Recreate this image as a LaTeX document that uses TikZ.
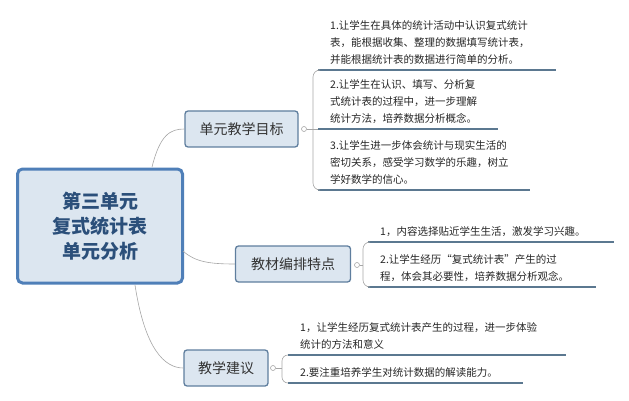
\documentclass[tikz,border=0pt]{standalone}
\usepackage{fontspec}
\setmainfont{Noto Sans CJK SC}
\begin{document}
\begin{tikzpicture}[x=1pt,y=-1pt,
  box/.style={draw=boxb,fill=boxf,rounded corners=3pt,line width=1.3pt,inner sep=0pt,text=black!80},
  leaf/.style={anchor=south west,align=left,font=\fontsize{10.5}{17}\selectfont,text=black!85,inner sep=0pt},
  uline/.style={draw=ulc,line width=2.4pt},
  conn/.style={draw=gray!70,line width=0.6pt},
  knob/.style={circle,draw=gray!70,fill=white,minimum size=5pt,inner sep=0pt,line width=0.6pt}]
\definecolor{boxb}{HTML}{5F7E9E}
\definecolor{boxf}{HTML}{DCE6F0}
\definecolor{cb}{HTML}{4F7FB8}
\definecolor{ctext}{HTML}{2B4F7A}
\definecolor{ulc}{HTML}{5B7890}
\useasboundingbox (0,0) rectangle (629,401);
% center
\node[draw=cb,fill=boxf,rounded corners=5pt,line width=3pt,minimum width=165pt,minimum height=114pt,align=center,font=\fontsize{19}{25}\selectfont\bfseries,text=ctext] (c) at (100,226) {第三单元\\复式统计表\\单元分析};
% branches
\node[box,minimum width=113pt,minimum height=36pt,font=\fontsize{14}{16}\selectfont] (g) at (241.5,129) {单元教学目标};
\node[box,minimum width=115pt,minimum height=36pt,font=\fontsize{14}{16}\selectfont] (f) at (293,264) {教材编排特点};
\node[box,minimum width=84pt,minimum height=36pt,font=\fontsize{14}{16}\selectfont] (s) at (226,368) {教学建议};
\coordinate (ct) at (152,167);
\coordinate (cr) at (183,251);
\coordinate (cbm) at (135,285);
\draw[conn] (ct) .. controls (160,135) and (170,129) .. (g.west);
\draw[conn] (cr) .. controls (195,262) and (210,264) .. (f.west);
\draw[conn] (cbm) .. controls (145,350) and (165,368) .. (s.west);
% knobs
\node[knob] (gk) at (304,129) {};
\node[knob] (fk) at (357,265) {};
\node[knob] (sk) at (273,368) {};
% goal leaves
\coordinate (g1) at (318,70); \coordinate (g1e) at (556,70);
\coordinate (g2) at (318,129); \coordinate (g2e) at (498,129);
\coordinate (g3) at (318,190); \coordinate (g3e) at (530,190);
\draw[uline] (g1) -- (g1e); \draw[uline] (g2) -- (g2e); \draw[uline] (g3) -- (g3e);
\node[leaf] (gt1) at (330,65) {1.让学生在具体的统计活动中认识复式统计\\表，能根据收集、整理的数据填写统计表，\\并能根据统计表的数据进行简单的分析。};
\node[leaf] (gt2) at (330,124) {2.让学生在认识、填写、分析复\\式统计表的过程中，进一步理解\\统计方法，培养数据分析概念。};
\node[leaf] (gt3) at (330,185) {3.让学生进一步体会统计与现实生活的\\密切关系，感受学习数学的乐趣，树立\\学好数学的信心。};
\draw[conn,rounded corners=7pt] (g1) -- (313,70) -- (313,190) -- (g3);
\draw[conn] (gk) -- (g2);
% feature leaves
\coordinate (f1) at (368,242); \coordinate (f1e) at (614,242);
\coordinate (f2) at (368,287); \coordinate (f2e) at (596,287);
\draw[uline] (f1) -- (f1e); \draw[uline] (f2) -- (f2e);
\node[leaf] (ft1) at (380,237) {1，内容选择贴近学生生活，激发学习兴趣。};
\node[leaf] (ft2) at (380,282) {2.让学生经历“复式统计表”产生的过\\程，体会其必要性，培养数据分析观念。};
\draw[conn,rounded corners=7pt] (f1) -- (363,242) -- (363,287) -- (f2);
\draw[conn] (fk) -- (363,265);
% suggestion leaves
\coordinate (s1) at (288,355); \coordinate (s1e) at (566,355);
\coordinate (s2) at (288,383); \coordinate (s2e) at (523,383);
\draw[uline] (s1) -- (s1e); \draw[uline] (s2) -- (s2e);
\node[leaf] (st1) at (300,350) {1，让学生经历复式统计表产生的过程，进一步体验\\统计的方法和意义};
\node[leaf] (st2) at (300,378) {2.要注重培养学生对统计数据的解读能力。};
\draw[conn,rounded corners=6pt] (s1) -- (282,355) -- (282,383) -- (s2);
\draw[conn] (sk) -- (282,368);
\end{tikzpicture}
\end{document}
